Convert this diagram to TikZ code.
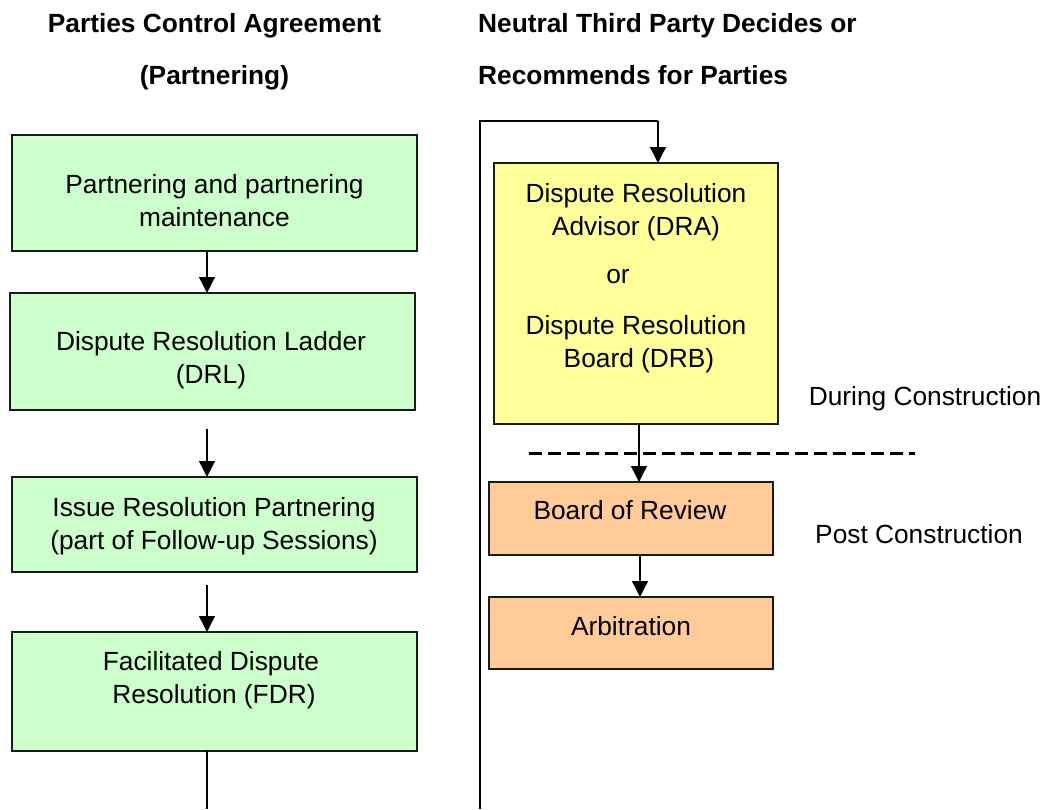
\documentclass[tikz,border=0pt]{standalone}
\usepackage{fontspec}
\setmainfont{Liberation Sans}
\usetikzlibrary{arrows.meta}
\definecolor{grn}{HTML}{CCFFCC}
\definecolor{ylw}{HTML}{FFFF99}
\definecolor{org}{HTML}{FFCC99}
\tikzset{
  box/.style={draw=black!90, line width=1.5pt, rectangle, inner sep=0pt, outer sep=0pt},
  txt/.style={font=\fontsize{26.3}{31}\selectfont, inner sep=0pt, anchor=base},
  hd/.style={font=\fontsize{26.3}{31}\selectfont\bfseries, inner sep=0pt, anchor=base},
  arr/.style={line width=1.3pt, -{Triangle[width=16pt,length=16pt]}},
  plain/.style={line width=1.3pt},
  sep/.style={line width=3pt, dash pattern=on 13pt off 6pt}
}
\begin{document}
\begin{tikzpicture}[x=1pt,y=-1pt]
\useasboundingbox (0,0) rectangle (1047,809);
% headings
\node[hd] (h1) at (214.5,32) {Parties Control Agreement};
\node[hd] (h2) at (214.5,84) {(Partnering)};
\node[hd, anchor=base west] (h3) at (478,32) {Neutral Third Party Decides or};
\node[hd, anchor=base west] (h4) at (478,84) {Recommends for Parties};
% left column boxes
\node[box, fill=grn, minimum width=405pt, minimum height=116pt] (b1) at (214.5,193) {};
\node[box, fill=grn, minimum width=405pt, minimum height=117pt] (b2) at (212.5,351.5) {};
\node[box, fill=grn, minimum width=405pt, minimum height=95pt] (b3) at (214.5,524.5) {};
\node[box, fill=grn, minimum width=405pt, minimum height=119pt] (b4) at (214.5,691.5) {};
\node[txt] (t1a) at (214.5,193) {Partnering and partnering};
\node[txt] (t1b) at (214.5,226) {maintenance};
\node[txt] (t2a) at (211,350) {Dispute Resolution Ladder};
\node[txt] (t2b) at (211,383) {(DRL)};
\node[txt] (t3a) at (214,516) {Issue Resolution Partnering};
\node[txt] (t3b) at (214,549) {(part of Follow-up Sessions)};
\node[txt] (t4a) at (211,670) {Facilitated Dispute};
\node[txt] (t4b) at (214,703) {Resolution (FDR)};
% left connectors
\coordinate (s2) at (207,429);
\coordinate (s3) at (207,585);
\coordinate (bl) at (207,809);
\draw[arr] (b1.south -| 207,0) -- (b2.north -| 207,0);
\draw[arr] (s2) -- (b3.north -| s2);
\draw[arr] (s3) -- (b4.north -| s3);
\draw[plain] (b4.south -| bl) -- (bl);
% right column
\coordinate (rb) at (480,809);
\coordinate (rt) at (480,121);
\coordinate (rc) at (658,121);
\node[box, fill=ylw, minimum width=284pt, minimum height=261pt] (yb) at (636,293.5) {};
\node[txt] (y1) at (636,202) {Dispute Resolution};
\node[txt] (y2) at (636,235) {Advisor (DRA)};
\node[txt] (y3) at (618,283) {or};
\node[txt] (y4) at (636,334) {Dispute Resolution};
\node[txt] (y5) at (639,367) {Board (DRB)};
\node[box, fill=org, minimum width=284pt, minimum height=73pt] (bor) at (631,518.5) {};
\node[txt] (bort) at (630,519) {Board of Review};
\node[box, fill=org, minimum width=284pt, minimum height=72pt] (arb) at (631,633) {};
\node[txt] (arbt) at (631,635) {Arbitration};
\draw[plain] (rb) -- (rt) -- (rc);
\draw[arr] (rc) -- (yb.north -| rc);
\coordinate (dl) at (529,453);
\coordinate (dr) at (915,453);
\draw[sep] (dl) -- (dr);
\draw[arr] (yb.south -| 639,0) -- (bor.north -| 639,0);
\draw[arr] (bor.south -| 640,0) -- (arb.north -| 640,0);
\node[txt] (dc) at (925,405) {During Construction};
\node[txt] (pc) at (919,543) {Post Construction};
\end{tikzpicture}
\end{document}
